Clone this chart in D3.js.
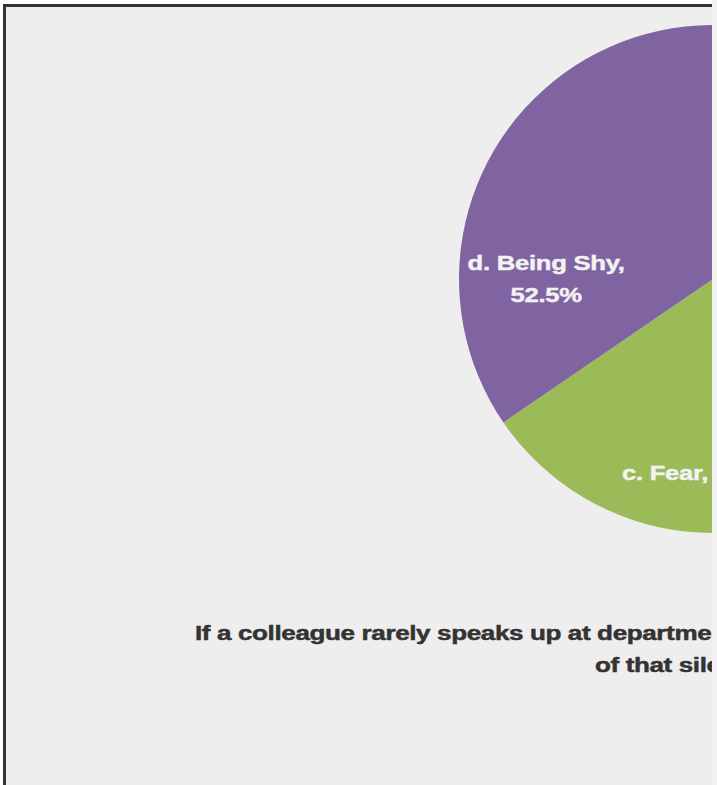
<!DOCTYPE html>
<html>
<head>
<meta charset="utf-8">
<script src="https://cdn.jsdelivr.net/npm/d3@7"></script>
<style>
  html, body { margin: 0; padding: 0; background: #ffffff; overflow: hidden; }
  svg { display: block; }
</style>
</head>
<body>
<svg id="chart" width="717" height="785"></svg>
<script>
// Survey answers: main reason a colleague stays silent in department meetings
const categories = ["a. Lack of Interest", "b. Lack of Knowledge", "c. Fear", "d. Being Shy"];
const shares = [12.5, 7.5, 27.5, 52.5];           // percent of respondents
const sliceColors = ["#4F81BD", "#C0504D", "#9BBB59", "#8064A2"];
const titleLines = [
  "If a colleague rarely speaks up at department meetings, what do you think is the main reason",
  "of that silence?"
];
// label text per slice (line breaks as in the chart)
const labelLines = [
  ["a. Lack of Interest,", "12.5%"],
  ["b. Lack of Knowledge,", "7.5%"],
  ["c. Fear, 27.5%"],
  ["d. Being Shy,", "52.5%"]
];

const svg = d3.select("#chart");
const W = 717, H = 785;
const FONT = "'Liberation Sans', Arial, sans-serif";

// visible chart area
svg.append("clipPath").attr("id", "clipArea")
  .append("rect").attr("x", 0).attr("y", 0).attr("width", 712).attr("height", H);

const g = svg.append("g").attr("clip-path", "url(#clipArea)");

// chart frame
g.append("rect")
  .attr("x", 4.5).attr("y", 5.5)
  .attr("width", 1500).attr("height", 1200)
  .attr("fill", "#eeeeee")
  .attr("stroke", "#333333")
  .attr("stroke-width", 3);

// pie geometry
const cx = 713, cy = 279, R = 254;
const firstSliceAngle = 64.6;   // degrees, clockwise from 12 o'clock

const pie = d3.pie()
  .value(d => d)
  .sort(null)
  .startAngle(firstSliceAngle * Math.PI / 180)
  .endAngle((firstSliceAngle + 360) * Math.PI / 180);

const arcs = pie(shares);
const arc = d3.arc().innerRadius(0).outerRadius(R);

const pieG = g.append("g").attr("transform", `translate(${cx},${cy})`);
pieG.selectAll("path.slice")
  .data(arcs)
  .join("path")
  .attr("class", "slice")
  .attr("d", arc)
  .attr("fill", (d, i) => sliceColors[i]);

// data labels: best-fit placement (angle in degrees from 12 o'clock, radius fraction);
// null angle means the slice's own mid-angle
const labelPlacement = [
  { angle: null, r: 0.65 },
  { angle: null, r: 0.70 },
  { angle: 182.6, r: 0.765 },
  { angle: 270, r: 0.657 }
];
const labelSize = 20.5, labelLead = 32, labelStretch = 1.25;

arcs.forEach((a, i) => {
  const p = labelPlacement[i];
  const t = p.angle === null ? (a.startAngle + a.endAngle) / 2 : p.angle * Math.PI / 180;
  const lx = Math.sin(t) * R * p.r;
  const ly = -Math.cos(t) * R * p.r;
  const lines = labelLines[i];
  const top = ly - (lines.length - 1) * labelLead / 2;
  const lg = pieG.append("g").attr("transform", `translate(${lx},${top}) scale(${labelStretch},1)`);
  lines.forEach((s, k) => {
    lg.append("text")
      .attr("x", 0)
      .attr("y", k * labelLead)
      .attr("dy", "0.36em")
      .attr("text-anchor", "middle")
      .attr("font-family", FONT)
      .attr("font-weight", "bold")
      .attr("font-size", labelSize)
      .attr("letter-spacing", -0.2)
      .attr("fill", "#f2f2f2")
      .attr("stroke", "#f2f2f2")
      .attr("stroke-width", 0.45)
      .text(s);
  });
});

// chart title (two lines, each set from its own left edge)
const titleStarts = [195, 595];
const titleBase = 640, titleLead = 32, titleStretch = 1.24;
titleLines.forEach((s, k) => {
  g.append("g")
    .attr("transform", `translate(${titleStarts[k]},${titleBase + k * titleLead}) scale(${titleStretch},1)`)
    .append("text")
    .attr("x", 0).attr("y", 0)
    .attr("font-family", FONT)
    .attr("font-weight", "bold")
    .attr("font-size", 21)
    .attr("letter-spacing", -0.3)
    .attr("fill", "#333333")
    .attr("stroke", "#333333")
    .attr("stroke-width", 0.5)
    .text(s);
});

// strip beyond the chart's right edge
svg.append("rect").attr("x", 712).attr("y", 0).attr("width", W - 712).attr("height", H)
  .attr("fill", "#f2f2f2");
</script>
</body>
</html>
